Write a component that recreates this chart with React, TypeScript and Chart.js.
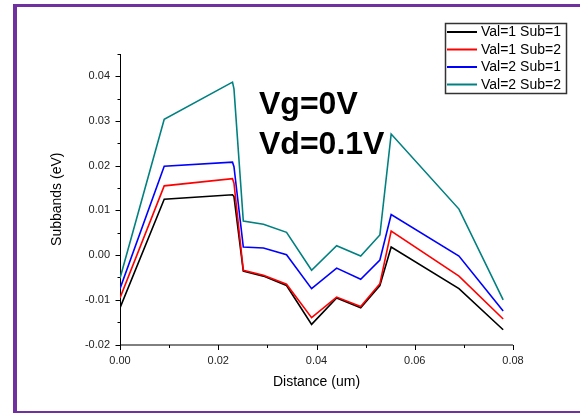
import React, { useEffect, useRef } from "react";
import { Chart, registerables } from "chart.js";

Chart.register(...registerables);

const DISTANCE = [0, 0.009, 0.0229, 0.0232, 0.0251, 0.0292, 0.0339, 0.039, 0.0441, 0.049, 0.0529, 0.0552, 0.069, 0.078];
const VAL1_SUB1 = [-0.0118, 0.0125, 0.0135, 0.0131, -0.0036, -0.0047, -0.0068, -0.0155, -0.0096, -0.0118, -0.0068, 0.0018, -0.0075, -0.0167];
const VAL1_SUB2 = [-0.0096, 0.0155, 0.0171, 0.0161, -0.0034, -0.0045, -0.0065, -0.014, -0.0094, -0.0115, -0.0064, 0.0054, -0.0047, -0.0143];
const VAL2_SUB1 = [-0.0075, 0.0199, 0.0208, 0.0198, 0.0018, 0.0016, 0.0001, -0.0075, -0.0029, -0.0054, -0.0011, 0.0091, -0.0002, -0.0125];
const VAL2_SUB2 = [-0.0052, 0.0304, 0.0387, 0.0372, 0.0076, 0.0069, 0.0051, -0.0034, 0.0021, -0.0002, 0.0045, 0.0271, 0.0103, -0.01];

const SERIES_LABELS = ["Val=1 Sub=1", "Val=1 Sub=2", "Val=2 Sub=1", "Val=2 Sub=2"];
const SERIES_COLORS = ["#000000", "#ff0000", "#0000ff", "#008080"];
const ANNOTATION = ["Vg=0V", "Vd=0.1V"];
const X_TITLE = "Distance (um)";
const Y_TITLE = "Subbands (eV)";

const FONT = "'Liberation Sans', Arial, Helvetica, sans-serif";

const decor = {
  id: "decor",
  beforeDatasetsDraw(chart: any) {
    const { ctx, chartArea: a, scales } = chart;
    const x = scales.x;
    const y = scales.y;
    ctx.save();
    ctx.strokeStyle = "#000";
    ctx.lineWidth = 1;
    ctx.beginPath();
    ctx.moveTo(a.left + 0.5, a.top);
    ctx.lineTo(a.left + 0.5, a.bottom + 0.5);
    ctx.lineTo(a.right, a.bottom + 0.5);
    ctx.stroke();
    // y ticks (major 0.01, minor 0.005)
    for (let k = -4; k <= 9; k++) {
      const v = k * 0.005;
      const py = Math.round(y.getPixelForValue(v)) + 0.5;
      const len = k % 2 === 0 ? 5 : 3;
      ctx.beginPath();
      ctx.moveTo(a.left + 0.5, py);
      ctx.lineTo(a.left + 0.5 - len, py);
      ctx.stroke();
    }
    // x ticks (major 0.02, minor 0.01)
    for (let k = 0; k <= 8; k++) {
      const v = k * 0.01;
      const px = Math.round(x.getPixelForValue(v)) + 0.5;
      const len = k % 2 === 0 ? 5 : 3;
      ctx.beginPath();
      ctx.moveTo(px, a.bottom + 0.5);
      ctx.lineTo(px, a.bottom + 0.5 + len);
      ctx.stroke();
    }
    ctx.restore();
  },
  afterDraw(chart: any) {
    const { ctx } = chart;
    ctx.save();
    // annotation
    ctx.fillStyle = "#000";
    ctx.font = `bold 32px ${FONT}`;
    ctx.textBaseline = "alphabetic";
    ctx.textAlign = "left";
    ctx.fillText(ANNOTATION[0], 259, 114);
    ctx.fillText(ANNOTATION[1], 259, 154);
    // legend
    const bx = 445.5, by = 23.5, bw = 121, bh = 70;
    ctx.fillStyle = "#fff";
    ctx.fillRect(bx, by, bw, bh);
    ctx.strokeStyle = "#333";
    ctx.lineWidth = 1.5;
    ctx.strokeRect(bx, by, bw, bh);
    ctx.font = `14px ${FONT}`;
    ctx.textBaseline = "middle";
    chart.data.datasets.forEach((ds: any, i: number) => {
      const ry = 32 + i * 17.5;
      ctx.strokeStyle = ds.borderColor;
      ctx.lineWidth = 2;
      ctx.beginPath();
      ctx.moveTo(447, ry);
      ctx.lineTo(477, ry);
      ctx.stroke();
      ctx.fillStyle = "#000";
      ctx.fillText(ds.label, 481, ry + 0.5);
    });
    ctx.restore();
  },
};

export default function App() {
  const ref = useRef<HTMLCanvasElement>(null);
  useEffect(() => {
    if (!ref.current) return;
    const seriesValues = [VAL1_SUB1, VAL1_SUB2, VAL2_SUB1, VAL2_SUB2];
    const chart = new Chart(ref.current, {
      type: "line",
      data: {
        datasets: seriesValues.map((vals, i) => ({
          label: SERIES_LABELS[i],
          data: DISTANCE.map((d, j) => ({ x: d, y: vals[j] })),
          borderColor: SERIES_COLORS[i],
          backgroundColor: SERIES_COLORS[i],
          borderWidth: 1.6,
          pointRadius: 0,
          tension: 0,
          fill: false,
          order: 4 - i,
        })),
      },
      options: {
        animation: false,
        responsive: false,
        devicePixelRatio: 1,
        layout: { padding: { left: 0, top: 54, right: 67, bottom: 0 } },
        plugins: { legend: { display: false }, tooltip: { enabled: false } },
        scales: {
          x: {
            type: "linear",
            min: 0,
            max: 0.08,
            grid: { display: false, drawTicks: false, tickLength: 0 },
            border: { display: false },
            ticks: {
              stepSize: 0.02,
              includeBounds: false,
              padding: 10,
              maxRotation: 0,
              color: "#222",
              font: { family: FONT, size: 11 },
              callback: (v: any) => Number(v).toFixed(2),
            },
            title: {
              display: true,
              text: X_TITLE,
              color: "#000",
              font: { family: FONT, size: 14 },
              padding: { top: 0, bottom: 22 },
            },
            afterFit: (s: any) => {
              s.height = 68.5;
            },
          },
          y: {
            type: "linear",
            min: -0.02,
            max: 0.045,
            grid: { display: false, drawTicks: false, tickLength: 0 },
            border: { display: false },
            ticks: {
              stepSize: 0.01,
              includeBounds: false,
              padding: 10,
              color: "#222",
              font: { family: FONT, size: 11 },
              callback: (v: any) => Number(v).toFixed(2),
            },
            title: {
              display: true,
              text: Y_TITLE,
              color: "#000",
              font: { family: FONT, size: 14 },
              padding: { top: 48.5, bottom: 0 },
            },
            afterFit: (s: any) => {
              s.width = 120;
            },
          },
        },
      },
      plugins: [decor],
    });
    return () => chart.destroy();
  }, []);

  return (
    <div style={{ position: "absolute", left: 0, top: 0, width: 580, height: 413, overflow: "hidden" }}>
      <div
        style={{
          position: "absolute",
          left: 13,
          top: 4,
          width: 567,
          height: 409,
          boxSizing: "border-box",
          borderLeft: "4px solid #7030a0",
          borderTop: "3px solid #7030a0",
          borderBottom: "2px solid #7030a0",
        }}
      />
      <canvas ref={ref} width={580} height={413} style={{ position: "absolute", left: 0, top: 0, width: 580, height: 413 }} />
    </div>
  );
}
